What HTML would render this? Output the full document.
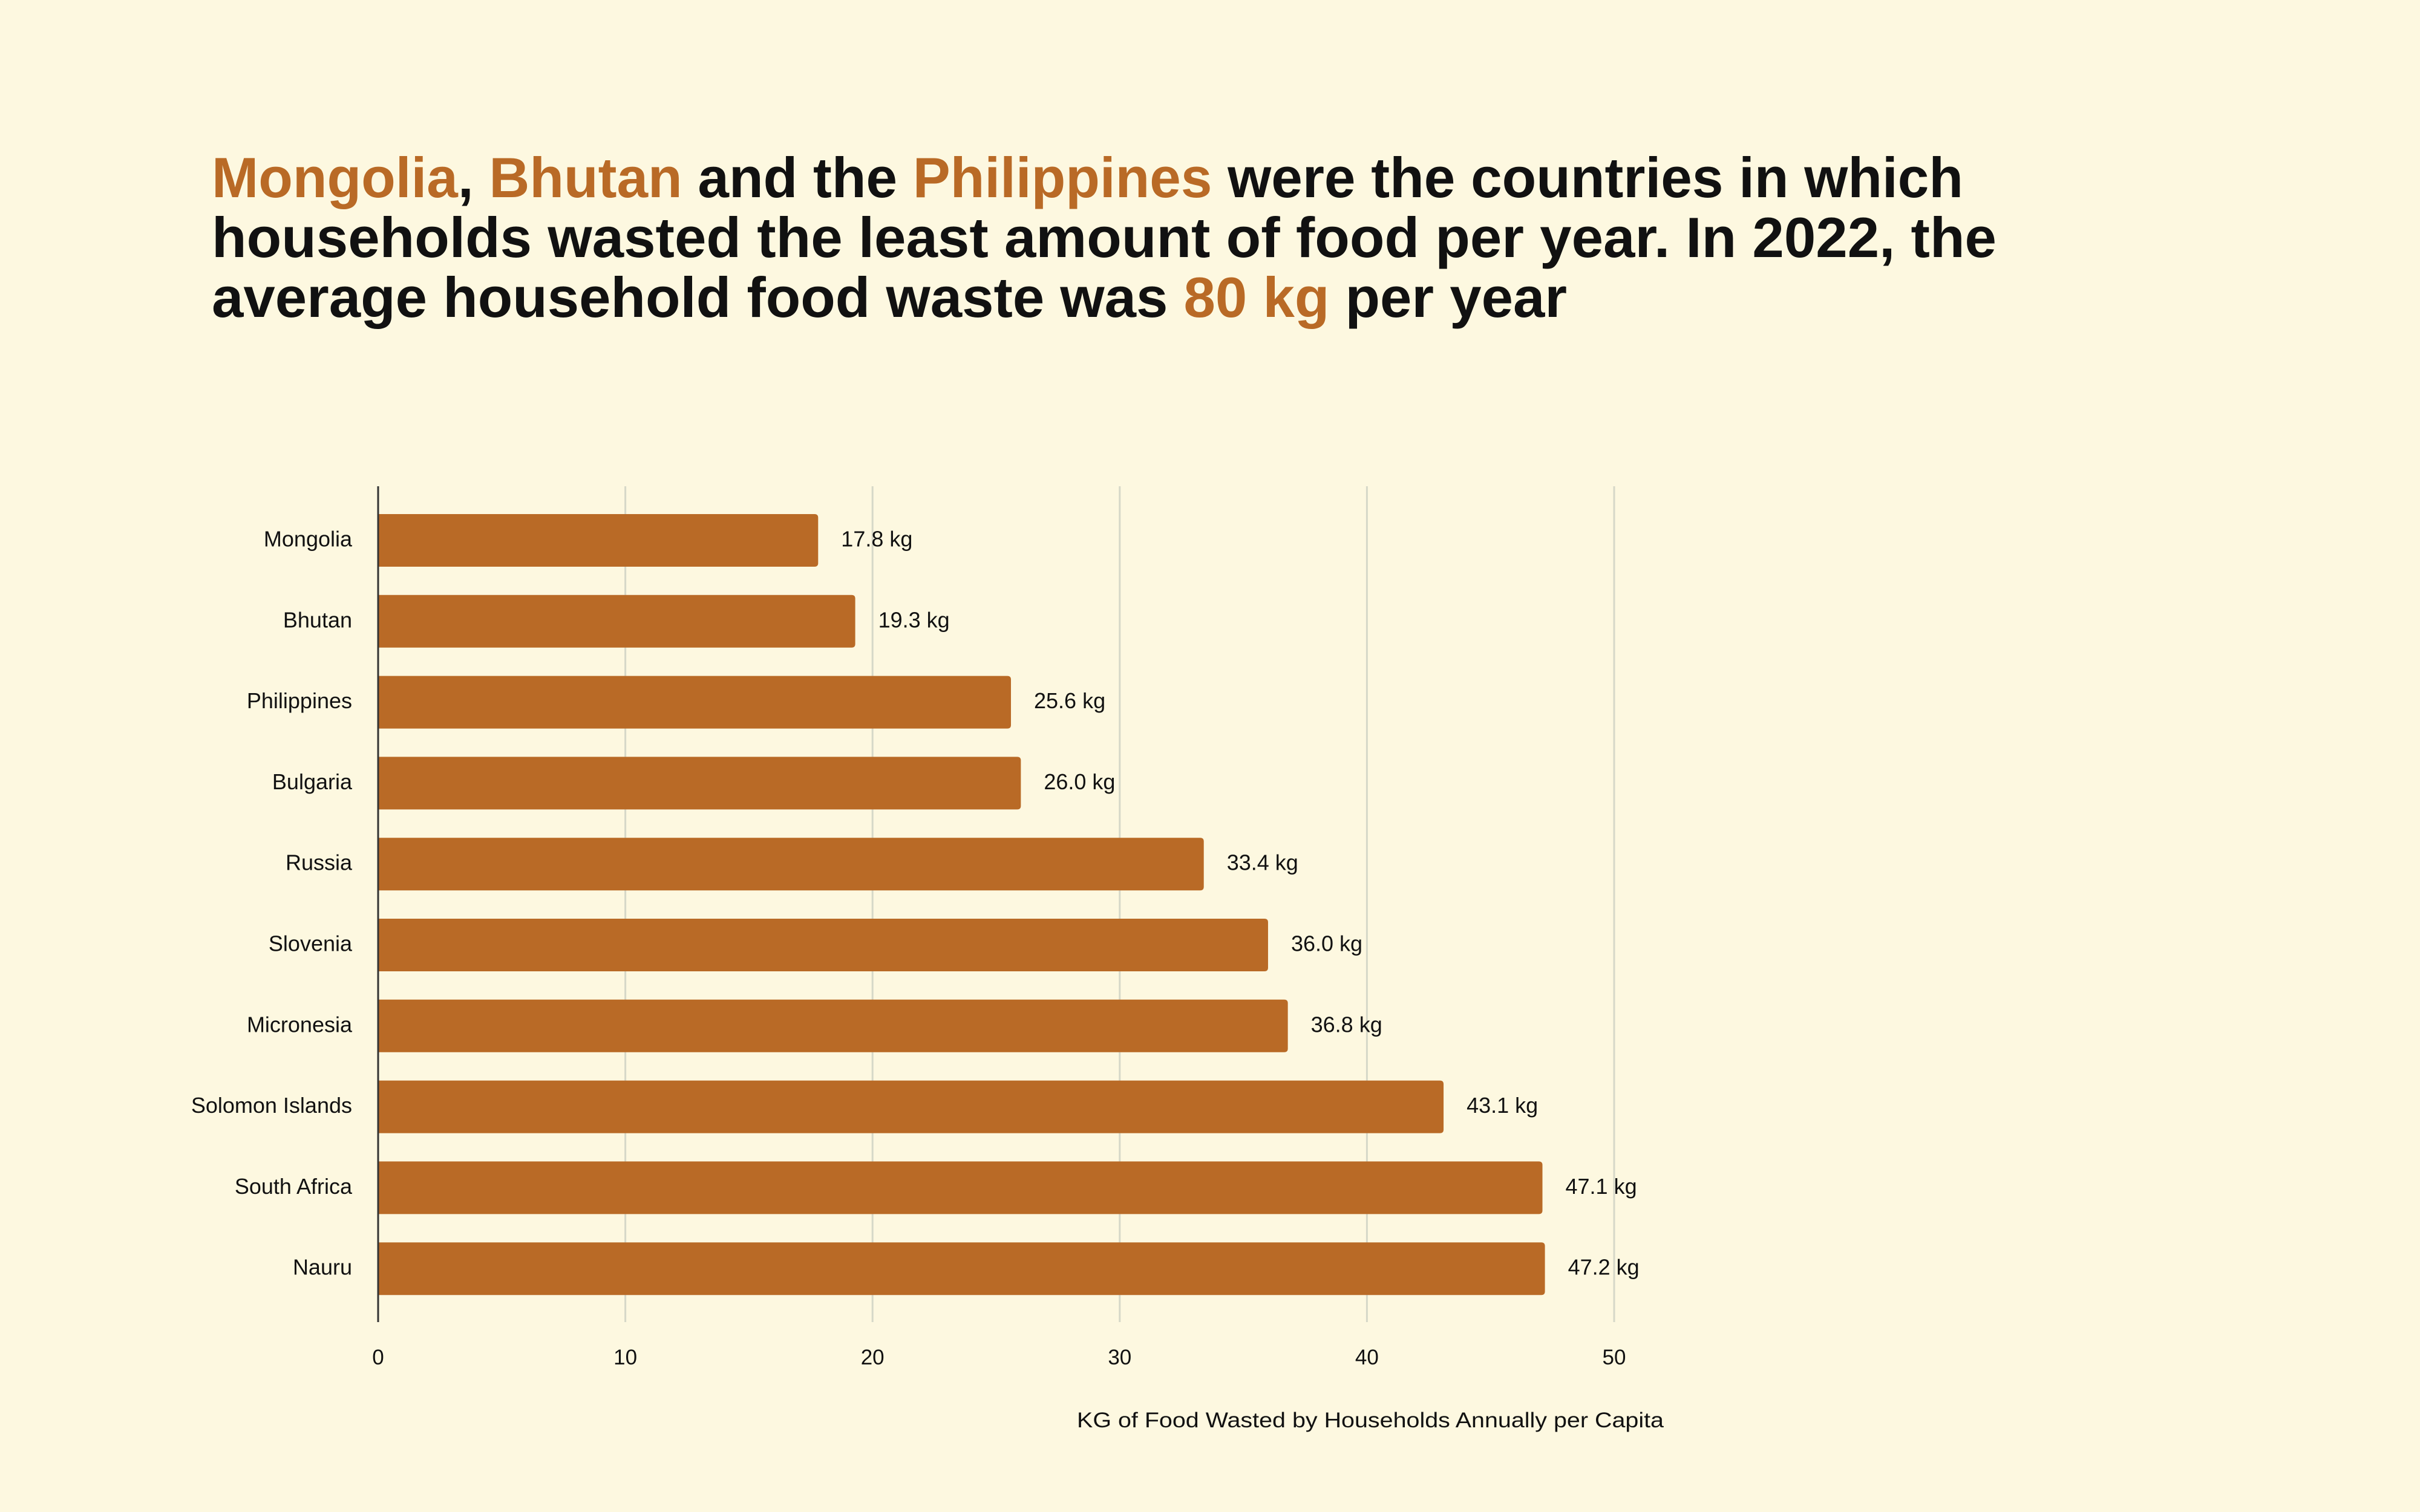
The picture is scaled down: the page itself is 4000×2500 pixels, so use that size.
<!DOCTYPE html>
<html><head><meta charset="utf-8"><style>
html,body{margin:0;padding:0;background:#fdf8e0;}
svg{display:block;font-family:"Liberation Sans",sans-serif;}
</style></head><body>
<svg id="chart" width="4000" height="2500" viewBox="0 0 4000 2500">
<rect width="4000" height="2500" fill="#fdf8e0"/>
<g font-weight="bold" font-size="94" fill="#111">
<text x="350" y="326" textLength="2895" lengthAdjust="spacingAndGlyphs"><tspan fill="#b96a26">Mongolia</tspan>, <tspan fill="#b96a26">Bhutan</tspan> and the <tspan fill="#b96a26">Philippines</tspan> were the countries in which</text>
<text x="350" y="425" textLength="2950" lengthAdjust="spacingAndGlyphs">households wasted the least amount of food per year. In 2022, the</text>
<text x="350" y="524" textLength="2240" lengthAdjust="spacingAndGlyphs">average household food waste was <tspan fill="#b96a26">80 kg</tspan> per year</text>
</g>
<g id="grid"></g>
<g id="bars"></g>
<g id="labels"></g>
<line x1="625" y1="804" x2="625" y2="2186" stroke="#333" stroke-width="3"/>
<text x="1780" y="2360" textLength="970" lengthAdjust="spacingAndGlyphs" font-size="35" fill="#111">KG of Food Wasted by Households Annually per Capita</text>
</svg>
<script>
const categories=["Mongolia","Bhutan","Philippines","Bulgaria","Russia","Slovenia","Micronesia","Solomon Islands","South Africa","Nauru"];
const values=[17.8,19.3,25.6,26.0,33.4,36.0,36.8,43.1,47.1,47.2];
const valueLabels=["17.8 kg","19.3 kg","25.6 kg","26.0 kg","33.4 kg","36.0 kg","36.8 kg","43.1 kg","47.1 kg","47.2 kg"];
const ticks=[0,10,20,30,40,50];
const NS="http://www.w3.org/2000/svg";
const x0=625,pxPer=40.86;
function xs(v){return x0+v*pxPer;}
const yTop=850,pitch=133.8,bh=87;
function ys(i){return yTop+i*pitch;}
const grid=document.getElementById('grid'),bars=document.getElementById('bars'),labels=document.getElementById('labels');
ticks.forEach(t=>{
  if(t>0){const l=document.createElementNS(NS,'line');
  l.setAttribute('x1',xs(t));l.setAttribute('x2',xs(t));l.setAttribute('y1',804);l.setAttribute('y2',2186);
  l.setAttribute('stroke','#d6d8c8');l.setAttribute('stroke-width','3');
  
  
  grid.appendChild(l);}
  const tx=document.createElementNS(NS,'text');
  tx.setAttribute('x',xs(t));tx.setAttribute('y',2256);tx.setAttribute('text-anchor','middle');tx.setAttribute('font-size','35');tx.setAttribute('fill','#111');
  tx.textContent=t;
  
  
  labels.appendChild(tx);
});
categories.forEach((c,i)=>{
  const y=ys(i),w=xs(values[i])-x0;
  const p=document.createElementNS(NS,'path');
  const r=6,x=x0;
  p.setAttribute('d',`M${x} ${y}H${x+w-r}Q${x+w} ${y} ${x+w} ${y+r}V${y+bh-r}Q${x+w} ${y+bh} ${x+w-r} ${y+bh}H${x}Z`);
  p.setAttribute('fill','#b96a26');
  
  
  bars.appendChild(p);
  const lt=document.createElementNS(NS,'text');
  lt.setAttribute('x',582);lt.setAttribute('y',y+bh/2+10);lt.setAttribute('text-anchor','end');lt.setAttribute('font-size','36');lt.setAttribute('fill','#111');
  lt.textContent=c;
  
  
  labels.appendChild(lt);
  const vt=document.createElementNS(NS,'text');
  vt.setAttribute('x',x0+w+38);vt.setAttribute('y',y+bh/2+10);vt.setAttribute('font-size','36');vt.setAttribute('fill','#111');
  vt.textContent=valueLabels[i];
  
  
  labels.appendChild(vt);
});
</script>
</body></html>
